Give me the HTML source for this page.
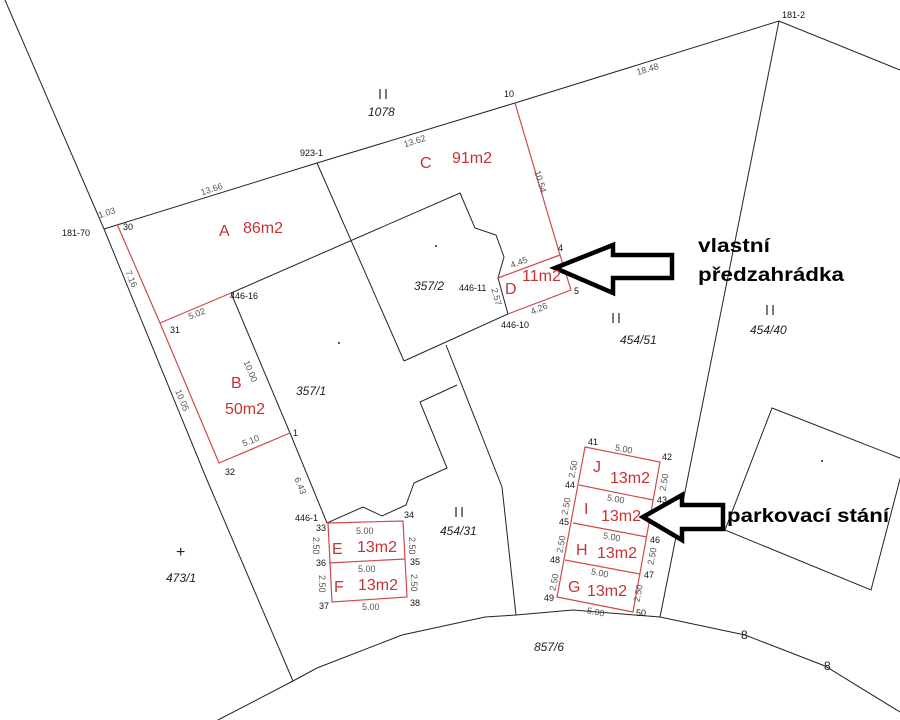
<!DOCTYPE html>
<html><head><meta charset="utf-8"><style>
html,body{margin:0;padding:0;background:#fff;}
svg{display:block;}
text{font-family:"Liberation Sans",sans-serif;}
.b{stroke:#222;stroke-width:1;fill:none;}
.r{stroke:#d24a4a;stroke-width:1.2;fill:none;}
.n{font-size:9px;fill:#111;}
.d{font-size:9px;fill:#555;}
.p{font-size:12px;fill:#222;font-style:italic;}
.rt{font-size:16px;fill:#c83232;}
.big{font-size:19px;font-weight:bold;fill:#000;}
.ii{stroke:#222;stroke-width:1.2;}
</style></head><body>
<svg width="900" height="720" viewBox="0 0 900 720" xmlns="http://www.w3.org/2000/svg">
<!-- black boundaries -->
<polyline class="b" points="5,0 104,229 207,480 293,681"/>
<polyline class="b" points="104,229 317,163 515,103 779,21 900,70"/>
<line class="b" x1="779" y1="21" x2="660" y2="617"/>
<line class="b" x1="317" y1="163" x2="404" y2="361"/>
<polyline class="b" points="404,361 508,314 498,278 504,257 496,235 475,228 460,193 231,293 290,433 327,523 363,507 382,516 406,505 414,483 447,468 420,402 457,385"/>
<polyline class="b" points="446,345 502,487 516,615"/>
<polyline class="b" points="218,720 293,681 317,668 402,635 485,617 516,615 573,610 660,617 745,635 825,666 900,712"/>
<polygon class="b" points="772,408 905,460 871,590 725,530"/>
<circle cx="822" cy="461" r="1" fill="#222"/>
<circle cx="436" cy="246" r="1" fill="#222"/>
<circle cx="339" cy="343" r="1" fill="#222"/>
<text x="741" y="639" font-size="12" fill="#222">8</text><text x="824" y="670" font-size="12" fill="#222">8</text>
<!-- red parcels -->
<polyline class="r" points="117,224 160,323 219,463 290,433"/>
<line class="r" x1="160" y1="323" x2="231" y2="293"/>
<polyline class="r" points="515,103 560,255 571,290 508,314"/>
<line class="r" x1="498" y1="278" x2="560" y2="255"/>
<polygon class="r" points="328,523 403,521 407,597 332,602"/>
<line class="r" x1="329" y1="563" x2="405" y2="559"/>
<polygon class="r" points="585,447 660,462 633,612 557,597"/>
<line class="r" x1="579" y1="485" x2="653" y2="500"/>
<line class="r" x1="573" y1="523" x2="647" y2="537"/>
<line class="r" x1="565" y1="560" x2="640" y2="574"/>
<!-- arrows -->
<polygon points="555,268 613,245 613,255 672,255 672,278 613,278 613,293" fill="#fff" stroke="#000" stroke-width="4.5" stroke-linejoin="miter"/>
<polygon points="643,517 682,495 682,505 723,505 723,529 682,529 682,540" fill="#fff" stroke="#000" stroke-width="4.5"/>
<text x="698" y="252" class="big" textLength="72" lengthAdjust="spacingAndGlyphs">vlastní</text>
<text x="698" y="281" class="big" textLength="146" lengthAdjust="spacingAndGlyphs">předzahrádka</text>
<text x="727" y="522" class="big" textLength="162" lengthAdjust="spacingAndGlyphs">parkovací stání</text>
<!-- parcel labels -->
<line class="ii" x1="380" y1="89" x2="380" y2="99"/><line class="ii" x1="386" y1="89" x2="386" y2="99"/>
<text x="368" y="116" class="p">1078</text>
<line class="ii" x1="613" y1="313" x2="613" y2="323"/><line class="ii" x1="619" y1="313" x2="619" y2="323"/>
<text x="620" y="344" class="p">454/51</text>
<line class="ii" x1="767" y1="305" x2="767" y2="315"/><line class="ii" x1="773" y1="305" x2="773" y2="315"/>
<text x="750" y="334" class="p">454/40</text>
<line class="ii" x1="456" y1="507" x2="456" y2="517"/><line class="ii" x1="462" y1="507" x2="462" y2="517"/>
<text x="440" y="535" class="p">454/31</text>
<text x="414" y="290" class="p">357/2</text>
<text x="296" y="395" class="p">357/1</text>
<text x="166" y="582" class="p">473/1</text>
<text x="534" y="651" class="p">857/6</text>
<text x="176" y="557" font-size="16" fill="#222">+</text>
<!-- red area labels -->
<text x="420" y="168" class="rt">C</text><text x="452" y="163" class="rt">91m2</text>
<text x="219" y="236" class="rt">A</text><text x="243" y="233" class="rt">86m2</text>
<text x="231" y="388" class="rt">B</text><text x="225" y="414" class="rt">50m2</text>
<text x="505" y="294" class="rt">D</text><text x="522" y="281" class="rt">11m2</text>
<text x="332" y="554" class="rt">E</text><text x="357" y="552" class="rt">13m2</text>
<text x="334" y="592" class="rt">F</text><text x="358" y="590" class="rt">13m2</text>
<text x="593" y="472" class="rt">J</text><text x="610" y="483" class="rt">13m2</text>
<text x="584" y="514" class="rt">I</text><text x="601" y="521" class="rt">13m2</text>
<text x="576" y="555" class="rt">H</text><text x="597" y="558" class="rt">13m2</text>
<text x="568" y="592" class="rt">G</text><text x="587" y="596" class="rt">13m2</text>
<!-- point numbers -->
<text x="504" y="97" class="n">10</text>
<text x="300" y="156" class="n">923-1</text>
<text x="782" y="18" class="n">181-2</text>
<text x="62" y="236" class="n">181-70</text>
<text x="123" y="230" class="n">30</text>
<text x="558" y="251" class="n">4</text>
<text x="574" y="294" class="n">5</text>
<text x="459" y="291" class="n">446-11</text>
<text x="501" y="328" class="n">446-10</text>
<text x="230" y="299" class="n">446-16</text>
<text x="170" y="333" class="n">31</text>
<text x="293" y="436" class="n">1</text>
<text x="225" y="475" class="n">32</text>
<text x="295" y="521" class="n">446-1</text>
<text x="316" y="531" class="n">33</text><text x="404" y="518" class="n">34</text>
<text x="316" y="566" class="n">36</text><text x="410" y="565" class="n">35</text>
<text x="319" y="609" class="n">37</text><text x="410" y="606" class="n">38</text>
<text x="588" y="445" class="n">41</text><text x="662" y="460" class="n">42</text>
<text x="565" y="488" class="n">44</text><text x="657" y="503" class="n">43</text>
<text x="559" y="525" class="n">45</text><text x="650" y="543" class="n">46</text>
<text x="550" y="563" class="n">48</text><text x="644" y="578" class="n">47</text>
<text x="544" y="601" class="n">49</text><text x="636" y="616" class="n">50</text>
<!-- dimensions -->
<text x="200" y="192" class="d" transform="rotate(-18 212 188)">13.66</text>
<text x="403" y="144" class="d" transform="rotate(-18 415 140)">13.62</text>
<text x="636" y="72" class="d" transform="rotate(-17 648 68)">18.48</text>
<text x="98" y="216" class="d" transform="rotate(-18 106 213)">1.03</text>
<text x="531" y="184" class="d" transform="rotate(73 541 180)">10.54</text>
<text x="510" y="266" class="d" transform="rotate(-20 517 262)">4.45</text>
<text x="530" y="312" class="d" transform="rotate(-22 538 308)">4.26</text>
<text x="489" y="298" class="d" transform="rotate(75 496 295)">2.57</text>
<text x="123" y="281" class="d" transform="rotate(67 131 278)">7.16</text>
<text x="171" y="403" class="d" transform="rotate(67 182 400)">10.05</text>
<text x="240" y="373" class="d" transform="rotate(67 250 370)">10.00</text>
<text x="188" y="317" class="d" transform="rotate(-22 196 314)">5.02</text>
<text x="242" y="444" class="d" transform="rotate(-22 250 441)">5.10</text>
<text x="292" y="488" class="d" transform="rotate(67 300 485)">6.43</text>
<text x="356" y="534" class="d">5.00</text><text x="358" y="572" class="d">5.00</text><text x="362" y="610" class="d">5.00</text>
<text x="308" y="548" class="d" transform="rotate(90 316 545)">2.50</text>
<text x="314" y="586" class="d" transform="rotate(90 322 583)">2.50</text>
<text x="404" y="548" class="d" transform="rotate(90 412 545)">2.50</text>
<text x="406" y="585" class="d" transform="rotate(90 414 582)">2.50</text>
<text x="615" y="452" class="d" transform="rotate(11 624 449)">5.00</text>
<text x="607" y="502" class="d" transform="rotate(11 616 499)">5.00</text>
<text x="603" y="540" class="d" transform="rotate(11 612 537)">5.00</text>
<text x="591" y="576" class="d" transform="rotate(11 600 573)">5.00</text>
<text x="587" y="615" class="d" transform="rotate(11 596 612)">5.00</text>
<text x="565" y="473" class="d" transform="rotate(-79 573 470)">2.50</text>
<text x="558" y="510" class="d" transform="rotate(-79 566 507)">2.50</text>
<text x="553" y="548" class="d" transform="rotate(-79 561 545)">2.50</text>
<text x="546" y="586" class="d" transform="rotate(-79 554 583)">2.50</text>
<text x="656" y="486" class="d" transform="rotate(-79 664 483)">2.50</text>
<text x="644" y="560" class="d" transform="rotate(-79 652 557)">2.50</text>
<text x="630" y="597" class="d" transform="rotate(-79 638 594)">2.50</text>
</svg>
</body></html>
